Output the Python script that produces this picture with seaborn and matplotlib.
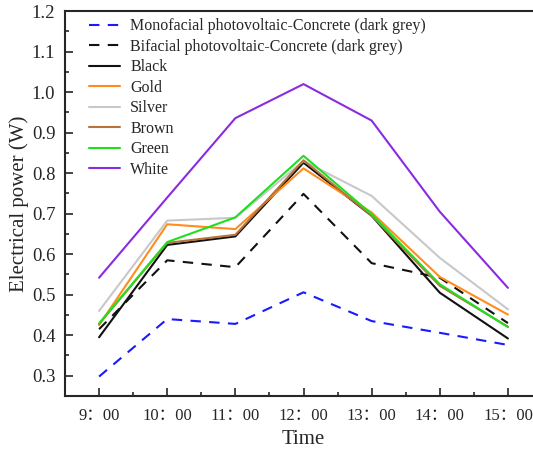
import numpy as np
import pandas as pd
import matplotlib
matplotlib.use("Agg")
import matplotlib.pyplot as plt
import seaborn as sns

hours = [9, 10, 11, 12, 13, 14, 15]
tick_labels = ["9：00", "10：00", "11：00", "12：00", "13：00", "14：00", "15：00"]

mono_concrete = [0.298, 0.440, 0.428, 0.506, 0.435, 0.406, 0.376]
bi_concrete = [0.415, 0.585, 0.568, 0.749, 0.578, 0.542, 0.430]
black = [0.395, 0.623, 0.644, 0.826, 0.695, 0.505, 0.392]
gold = [0.425, 0.674, 0.662, 0.812, 0.703, 0.544, 0.451]
silver = [0.460, 0.683, 0.690, 0.830, 0.744, 0.591, 0.464]
brown = [0.428, 0.628, 0.648, 0.832, 0.695, 0.522, 0.421]
green = [0.429, 0.630, 0.691, 0.843, 0.699, 0.526, 0.420]
white = [0.542, 0.740, 0.936, 1.020, 0.930, 0.705, 0.517]

series = [
    ("Monofacial photovoltaic-Concrete (dark grey)", mono_concrete, "#1a1aff", True),
    ("Bifacial photovoltaic-Concrete (dark grey)", bi_concrete, "#111111", True),
    ("Black", black, "#111111", False),
    ("Gold", gold, "#ff8c1e", False),
    ("Silver", silver, "#c8c8c8", False),
    ("Brown", brown, "#b8733a", False),
    ("Green", green, "#1fe01f", False),
    ("White", white, "#8a2be2", False),
]

sns.set_style("ticks")
serif = ["Liberation Serif", "Noto Sans CJK SC"]
plt.rcParams["font.family"] = serif
plt.rcParams["axes.unicode_minus"] = False

fig = plt.figure(figsize=(5.33, 4.53), dpi=100)
ax = fig.add_axes([65 / 533, 1 - 396 / 453, 477 / 533, 384.8 / 453])

for name, vals, color, dashed in series:
    df = pd.DataFrame({"hour": hours, "power": vals})
    sns.lineplot(data=df, x="hour", y="power", ax=ax, color=color,
                 linewidth=1.5, label=name, dashes=False)
    if dashed:
        ax.lines[-1].set_linestyle((0, (5, 4)))

ax.set_xlim(8.5, 15.5)
ax.set_ylim(0.25, 1.2)
ax.set_xticks(hours)
ax.set_xticklabels(tick_labels, fontsize=12, family=serif)
ax.set_xticks(np.arange(9.5, 15, 1), minor=True)
ax.set_yticks(np.arange(0.3, 1.21, 0.1))
ax.set_yticklabels([f"{v:.1f}" for v in np.arange(0.3, 1.21, 0.1)], fontsize=13.5)
ax.set_yticks(np.arange(0.35, 1.2, 0.1), minor=True)
ax.tick_params(which="major", direction="in", length=6, width=1.2, pad=7)
ax.tick_params(which="minor", direction="in", length=3, width=1.2)
ax.tick_params(axis="x", which="major", pad=9)

ax.set_xlabel("Time", fontsize=15, labelpad=4)
ax.set_ylabel("Electrical power (W)", fontsize=15, labelpad=2)

for s in ax.spines.values():
    s.set_linewidth(1.5)
    s.set_visible(True)

ax.legend(loc="upper left", frameon=False, fontsize=11.5,
          handlelength=1.95, handletextpad=0.63, labelspacing=0.28,
          borderaxespad=0.0, bbox_to_anchor=(0.037, 0.998))

fig.savefig("out.png", dpi=100)
